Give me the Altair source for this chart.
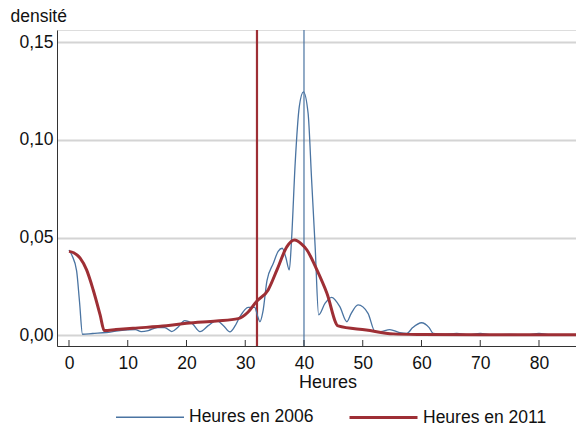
import altair as alt
import pandas as pd

# Blue curve: Heures en 2006
x2006 = [0, 0.5, 1.3, 1.8, 2.3, 4, 6.4, 8, 10, 11.3, 12.3, 13.5, 15, 16.3, 17.5, 18.5, 19.7, 21,
         22.3, 23.7, 25.1, 26.3, 27.4, 28.3, 29.1, 30.5, 31.6, 32.1, 32.5, 33, 33.7, 34.8, 35.6,
         36.3, 36.9, 37.5, 37.9, 38.5, 39.2, 39.9, 40.7, 41.3, 41.9, 42.5, 43.6, 44.7, 46.1, 47.3,
         48, 49.2, 50.9, 52.1, 53, 54.6, 56.3, 57.5, 58.5, 60, 61.3, 62, 64, 66, 68, 70, 72, 75,
         78, 80, 82, 87.6]
y2006 = [0.0437, 0.041, 0.033, 0.017, 0.0006, 0.001, 0.0015, 0.0022, 0.0028, 0.003, 0.002, 0.0025,
         0.004, 0.004, 0.002, 0.004, 0.0076, 0.006, 0.002, 0.005, 0.0076, 0.005, 0.0018, 0.005,
         0.0096, 0.0144, 0.0144, 0.010, 0.007, 0.012, 0.028, 0.037, 0.043, 0.0446, 0.040, 0.0335,
         0.050, 0.088, 0.117, 0.1246, 0.1136, 0.0795, 0.0454, 0.0105, 0.0165, 0.0195, 0.0147,
         0.007, 0.011, 0.0156, 0.0113, 0.002, 0.002, 0.003, 0.0014, 0.001, 0.004, 0.0065, 0.004,
         0.001, 0.0005, 0.001, 0.0003, 0.001, 0.0003, 0.0005, 0.0003, 0.001, 0.0003, 0.0002]

# Red curve: Heures en 2011
x2011 = [0, 0.8, 1.9, 3, 4.1, 5.3, 6, 8, 10.9, 16.6, 20, 25.1, 28.8, 30.5, 31.9, 33.9, 35.4, 37.1,
         38.4, 39.5, 40.5, 42.2, 43.9, 45.8, 50.6, 55.2, 60, 70, 87.6]
y2011 = [0.043, 0.0423, 0.0395, 0.0335, 0.0235, 0.0105, 0.0025, 0.003, 0.0037, 0.0049, 0.0062,
         0.0074, 0.0086, 0.012, 0.0173, 0.0233, 0.0335, 0.0454, 0.0488, 0.047, 0.0437, 0.0335,
         0.0216, 0.0049, 0.0028, 0.0008, 0.0005, 0.0003, 0.0003]

series = ["Heures en 2006", "Heures en 2011"]
colors = ["#4a74a2", "#9e2f35"]
widths = [1.3, 3]

x_ticks = [0, 10, 20, 30, 40, 50, 60, 70, 80]
y_ticks = [0, 0.05, 0.10, 0.15]
vline_2011 = [32]
vline_2006 = [40]

df = pd.concat([
    pd.DataFrame({"h": x2006, "d": y2006, "serie": series[0]}),
    pd.DataFrame({"h": x2011, "d": y2011, "serie": series[1]}),
])
tdf = pd.DataFrame({"h": x_ticks})

FONT = "Liberation Sans"
xs = alt.Scale(domain=[-2.04, 86.3], nice=False, zero=False)
ys = alt.Scale(domain=[-0.0054, 0.1562], nice=False, zero=False)

xaxis = alt.Axis(values=x_ticks, ticks=False, grid=False, labelFontSize=17.5, labelPadding=8,
                 title="Heures", titleFontSize=18, titleFontWeight="normal",
                 titleX=270.5, titleY=41, titleBaseline="alphabetic", titleAlign="center",
                 domainColor="#333333", labelColor="#111111", titleColor="#111111")
yaxis = alt.Axis(values=y_ticks, format=".2f", labelExpr="replace(datum.label, '.', ',')",
                 ticks=False, labelFontSize=17.5, labelPadding=4, gridColor="#d4d4d4",
                 gridWidth=2, domainColor="#333333", labelColor="#111111",
                 title="densité", titleAngle=0, titleFontSize=17.5, titleFontWeight="normal",
                 titleX=-47, titleY=-9, titleAlign="left", titleBaseline="alphabetic",
                 titleColor="#111111")

leg = dict(title=None, orient="none", legendX=58, legendY=352, direction="horizontal",
           symbolType="stroke", symbolSize=4624, labelFontSize=17.5, labelColor="#111111",
           columnPadding=29, labelOffset=4, padding=0)

lines = alt.Chart(df).mark_line(interpolate="monotone", clip=True).encode(
    x=alt.X("h:Q", scale=xs, axis=xaxis),
    y=alt.Y("d:Q", scale=ys, axis=yaxis),
    color=alt.Color("serie:N", scale=alt.Scale(domain=series, range=colors),
                    legend=alt.Legend(**leg)),
    strokeWidth=alt.StrokeWidth("serie:N", scale=alt.Scale(domain=series, range=widths),
                                legend=alt.Legend(**leg)),
    order="h:Q",
)

rule11 = alt.Chart(pd.DataFrame({"h": vline_2011})).mark_rule(
    color=colors[1], strokeWidth=2.2).encode(x=alt.X("h:Q", scale=xs))
rule06 = alt.Chart(pd.DataFrame({"h": vline_2006})).mark_rule(
    color=colors[0], strokeWidth=1.2).encode(x=alt.X("h:Q", scale=xs))

ticks = alt.Chart(tdf).mark_rule(color="#333333", strokeWidth=1).encode(
    x=alt.X("h:Q", scale=xs),
    y=alt.value(310),
    y2=alt.value(316),
)

chart = alt.layer(rule11, rule06, lines, ticks).properties(
    width=519, height=316,
    autosize=alt.AutoSizeParams(type="none"),
    padding={"left": 49, "top": 22, "right": 0, "bottom": 78},
).configure_view(stroke="#555555", strokeWidth=1).configure(font=FONT)

chart.save("out.html", embed_options={"renderer": "svg", "actions": False})
